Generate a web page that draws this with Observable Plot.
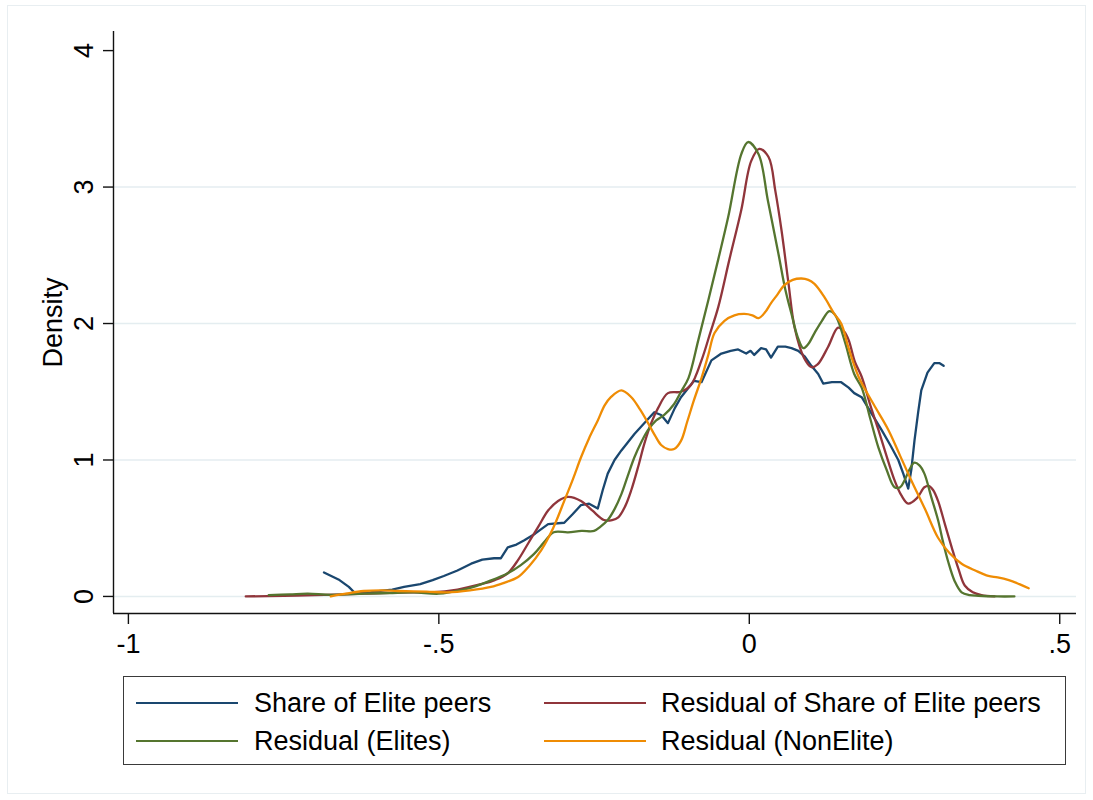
<!DOCTYPE html>
<html>
<head>
<meta charset="utf-8">
<script src="https://cdn.jsdelivr.net/npm/d3@7"></script>
<script src="https://cdn.jsdelivr.net/npm/@observablehq/plot@0.6"></script>
<style>
  html, body { margin: 0; padding: 0; background: #fff; }
  body { font-family: "Liberation Sans", Arial, Helvetica, sans-serif; }
  #wrap { position: relative; width: 1093px; height: 800px; overflow: hidden; }
  #frame { position: absolute; left: 7px; top: 5px; width: 1079px; height: 789px; border: 1px solid #e8eef1; box-sizing: border-box; }
  #chart { position: absolute; left: 0; top: 0; }
  #legend { position: absolute; left: 123px; top: 676px; width: 943px; height: 89px; border: 1.5px solid #3a3a3a; box-sizing: border-box; background: #fff; }
  .item { position: absolute; height: 30px; line-height: 30px; font-size: 27px; color: #000; white-space: nowrap; }
  .swatch { position: absolute; height: 0; width: 102px; border-top: 2.5px solid; }
</style>
</head>
<body>
<div id="wrap">
  <div id="frame"></div>
  <div id="chart"></div>
  <div id="legend"></div>
</div>
<script>
// ---- data ----
const seriesNames = ["Share of Elite peers", "Residual of Share of Elite peers", "Residual (Elites)", "Residual (NonElite)"];
const seriesColors = ["#1a476f", "#90353b", "#55752f", "#ef8c04"];

const shareElite = [
  [-0.685,0.176],[-0.66,0.12],[-0.645,0.07],[-0.634,0.02],[-0.61,0.03],[-0.594,0.04],[-0.575,0.05],[-0.556,0.07],
  [-0.53,0.09],[-0.51,0.12],[-0.492,0.15],[-0.47,0.19],[-0.448,0.24],[-0.43,0.27],[-0.411,0.28],[-0.40,0.28],
  [-0.389,0.36],[-0.375,0.38],[-0.363,0.41],[-0.345,0.46],[-0.324,0.53],[-0.298,0.54],[-0.285,0.60],[-0.271,0.67],
  [-0.258,0.68],[-0.244,0.645],[-0.236,0.78],[-0.228,0.90],[-0.217,1.00],[-0.206,1.07],[-0.185,1.19],[-0.163,1.30],
  [-0.153,1.35],[-0.142,1.33],[-0.131,1.27],[-0.120,1.38],[-0.110,1.46],[-0.089,1.58],[-0.077,1.57],[-0.061,1.73],
  [-0.045,1.78],[-0.030,1.80],[-0.018,1.81],[-0.005,1.78],[0.002,1.80],[0.008,1.77],[0.019,1.82],[0.027,1.81],
  [0.035,1.75],[0.046,1.83],[0.058,1.83],[0.068,1.82],[0.079,1.80],[0.089,1.76],[0.100,1.69],[0.111,1.63],
  [0.119,1.56],[0.133,1.57],[0.148,1.57],[0.160,1.53],[0.169,1.49],[0.181,1.46],[0.197,1.34],[0.213,1.22],
  [0.227,1.11],[0.240,1.00],[0.248,0.90],[0.256,0.79],[0.261,0.93],[0.266,1.14],[0.272,1.35],[0.277,1.51],
  [0.287,1.64],[0.298,1.71],[0.306,1.71],[0.313,1.69]
];

const residShare = [
  [-0.811,0],[-0.75,0.005],[-0.70,0.01],[-0.62,0.02],[-0.55,0.03],[-0.513,0.03],[-0.47,0.05],[-0.432,0.09],
  [-0.41,0.12],[-0.389,0.17],[-0.372,0.27],[-0.356,0.39],[-0.340,0.51],[-0.324,0.63],[-0.308,0.70],[-0.292,0.73],
  [-0.271,0.70],[-0.253,0.63],[-0.234,0.56],[-0.221,0.56],[-0.211,0.58],[-0.200,0.66],[-0.190,0.78],[-0.179,0.95],
  [-0.169,1.12],[-0.158,1.27],[-0.147,1.38],[-0.131,1.49],[-0.110,1.50],[-0.094,1.55],[-0.077,1.73],[-0.063,1.93],
  [-0.050,2.12],[-0.032,2.47],[-0.013,2.83],[0.003,3.19],[0.016,3.28],[0.031,3.22],[0.042,2.97],[0.052,2.68],
  [0.063,2.30],[0.073,1.97],[0.088,1.75],[0.100,1.68],[0.110,1.70],[0.127,1.83],[0.143,1.97],[0.153,1.94],
  [0.160,1.88],[0.170,1.72],[0.181,1.61],[0.195,1.40],[0.208,1.22],[0.221,1.03],[0.234,0.85],[0.245,0.74],
  [0.256,0.68],[0.270,0.72],[0.282,0.80],[0.289,0.81],[0.296,0.78],[0.304,0.70],[0.315,0.53],[0.326,0.36],
  [0.337,0.20],[0.347,0.08],[0.360,0.03],[0.374,0.01],[0.395,0]
];

const residElites = [
  [-0.774,0.01],[-0.74,0.015],[-0.711,0.02],[-0.674,0.012],[-0.62,0.02],[-0.58,0.025],[-0.54,0.03],[-0.50,0.02],
  [-0.46,0.05],[-0.444,0.07],[-0.42,0.11],[-0.389,0.17],[-0.368,0.23],[-0.347,0.31],[-0.330,0.40],[-0.315,0.47],
  [-0.292,0.47],[-0.270,0.48],[-0.250,0.48],[-0.240,0.51],[-0.228,0.56],[-0.217,0.64],[-0.206,0.75],[-0.196,0.88],
  [-0.185,1.02],[-0.174,1.13],[-0.163,1.22],[-0.150,1.29],[-0.137,1.33],[-0.121,1.41],[-0.110,1.50],[-0.098,1.60],
  [-0.082,1.88],[-0.066,2.17],[-0.050,2.47],[-0.034,2.78],[-0.013,3.24],[-0.002,3.33],[0.015,3.24],[0.030,2.90],
  [0.047,2.51],[0.058,2.25],[0.068,2.07],[0.078,1.90],[0.087,1.82],[0.095,1.85],[0.105,1.93],[0.117,2.02],
  [0.129,2.09],[0.137,2.07],[0.143,2.02],[0.155,1.85],[0.169,1.63],[0.181,1.53],[0.195,1.30],[0.208,1.09],
  [0.221,0.93],[0.234,0.80],[0.243,0.80],[0.250,0.85],[0.258,0.93],[0.266,0.98],[0.274,0.96],[0.282,0.90],
  [0.293,0.73],[0.304,0.56],[0.312,0.40],[0.320,0.26],[0.331,0.11],[0.342,0.03],[0.355,0.01],[0.369,0.005],
  [0.40,0],[0.427,0]
];

const residNonElite = [
  [-0.674,0.0],[-0.65,0.02],[-0.621,0.04],[-0.59,0.045],[-0.566,0.04],[-0.52,0.035],[-0.486,0.03],[-0.45,0.045],
  [-0.416,0.07],[-0.395,0.10],[-0.373,0.14],[-0.355,0.22],[-0.335,0.34],[-0.316,0.50],[-0.298,0.70],[-0.284,0.86],
  [-0.271,1.02],[-0.258,1.16],[-0.244,1.29],[-0.233,1.40],[-0.223,1.46],[-0.206,1.51],[-0.190,1.46],[-0.176,1.37],
  [-0.163,1.27],[-0.152,1.18],[-0.142,1.11],[-0.131,1.08],[-0.121,1.08],[-0.110,1.14],[-0.100,1.28],[-0.089,1.44],
  [-0.077,1.60],[-0.066,1.77],[-0.056,1.93],[-0.040,2.02],[-0.024,2.06],[-0.008,2.07],[0.005,2.06],[0.015,2.04],
  [0.025,2.08],[0.035,2.15],[0.045,2.21],[0.056,2.28],[0.070,2.32],[0.084,2.33],[0.095,2.32],[0.105,2.29],
  [0.120,2.20],[0.137,2.07],[0.148,2.00],[0.160,1.82],[0.176,1.61],[0.200,1.41],[0.224,1.22],[0.243,1.03],
  [0.261,0.85],[0.283,0.64],[0.304,0.43],[0.322,0.32],[0.342,0.24],[0.364,0.19],[0.385,0.15],[0.400,0.14],
  [0.418,0.12],[0.435,0.09],[0.450,0.06]
];

const xTicks = [-1, -0.5, 0, 0.5];
const xTickLabels = ["-1", "-.5", "0", ".5"];
const yTicks = [0, 1, 2, 3, 4];
const yGrid = [0, 1, 2, 3];
const yLabel = "Density";

// ---- build ----
const seriesData = [shareElite, residShare, residElites, residNonElite];
const rows = seriesData.flatMap((pts, i) => pts.map(([x, y]) => ({series: seriesNames[i], x, y})));

const xDomain = [-1.024, 0.527];
const yDomain = [-0.125, 4.14];
const font = '"Liberation Sans", Arial, Helvetica, sans-serif';
const fs = 27;

const chart = Plot.plot({
  width: 1093,
  height: 660,
  marginLeft: 113,
  marginRight: 17,
  marginTop: 31,
  marginBottom: 47,
  style: {fontFamily: font, fontSize: fs + "px", background: "transparent", color: "#000"},
  x: {domain: xDomain, axis: null},
  y: {domain: yDomain, axis: null},
  color: {domain: seriesNames, range: seriesColors},
  marks: [
    Plot.gridY(yGrid, {stroke: "#e4edf0", strokeOpacity: 1, strokeWidth: 1.6}),
    Plot.line(rows.filter(d => d.series === seriesNames[0]), {x: "x", y: "y", stroke: "series", strokeWidth: 2.3, curve: "linear"}),
    ...seriesNames.slice(1).map(name =>
      Plot.line(rows.filter(d => d.series === name), {x: "x", y: "y", stroke: "series", strokeWidth: 2.3, curve: "catmull-rom"})
    ),
    Plot.ruleX([xDomain[0]], {stroke: "#111", strokeWidth: 1.4}),
    Plot.ruleY([yDomain[0]], {stroke: "#111", strokeWidth: 1.4}),
    Plot.axisX(xTicks, {anchor: "bottom", tickSize: 11, tickPadding: 9, tickFormat: (d, i) => xTickLabels[i], label: null, fontSize: fs, stroke: "#111", strokeWidth: 1.4}),
    Plot.axisY(yTicks, {anchor: "left", tickSize: 10, tickFormat: () => "", label: null, stroke: "#111", strokeWidth: 1.4}),
    Plot.text(yTicks, {x: () => xDomain[0], y: d => d, text: d => String(d), rotate: -90, textAnchor: "middle", lineAnchor: "bottom", dx: -21, fontSize: fs, fill: "#000"}),
    Plot.text([yLabel], {frameAnchor: "left", text: d => d, rotate: -90, textAnchor: "middle", lineAnchor: "bottom", dx: -52, fontSize: fs, fill: "#000"})
  ]
});
document.getElementById("chart").appendChild(chart);

// ---- legend ----
const legend = document.getElementById("legend");
const legendPos = [[12, 11, 130], [420, 11, 537], [12, 49, 130], [420, 49, 537]];
seriesNames.forEach((name, i) => {
  const [lx, top, tx] = legendPos[i];
  const sw = document.createElement("div");
  sw.className = "swatch";
  sw.style.left = lx + "px";
  sw.style.top = (top + 14) + "px";
  sw.style.borderTopColor = seriesColors[i];
  legend.appendChild(sw);
  const t = document.createElement("div");
  t.className = "item";
  t.style.left = tx + "px";
  t.style.top = top + "px";
  t.textContent = name;
  legend.appendChild(t);
});
</script>
</body>
</html>
